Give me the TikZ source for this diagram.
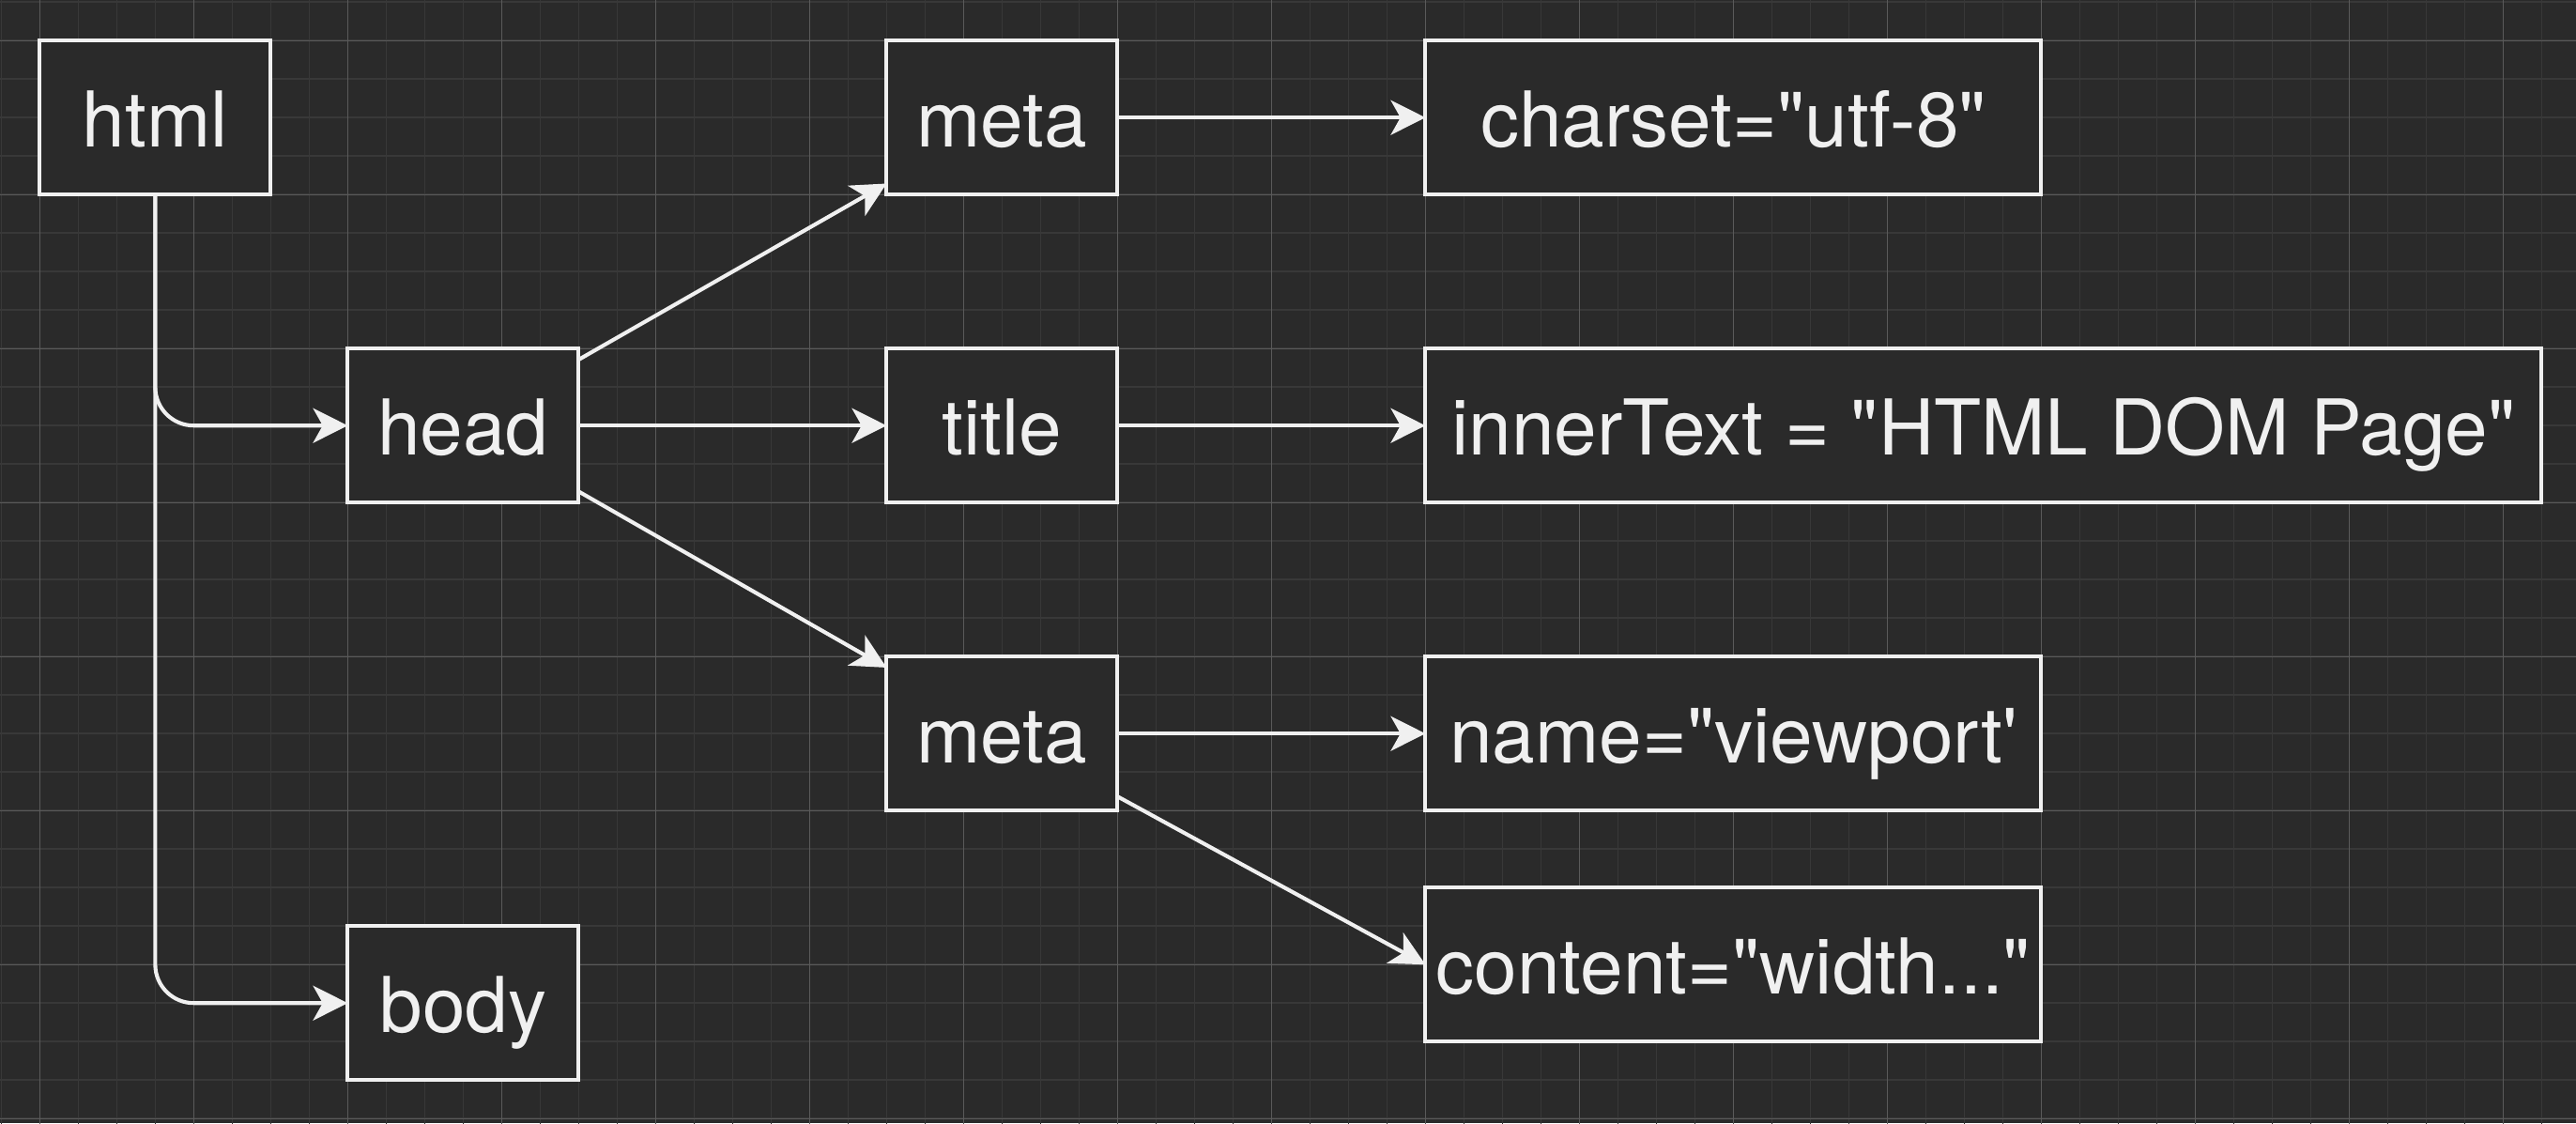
\documentclass[tikz,border=0pt]{standalone}
\usepackage{fontspec}
\setmainfont{TeX Gyre Heros}
\usetikzlibrary{arrows.meta}
\definecolor{bg}{HTML}{2A2A2A}
\definecolor{fg}{HTML}{F0F0F0}
\definecolor{gridminor}{HTML}{383838}
\definecolor{gridmajor}{HTML}{5A5A5A}
\newcommand{\dq}{\textquotedbl}
\begin{document}
\begin{tikzpicture}[x=1pt,y=1pt,
  box/.style={draw=fg, line width=1pt, fill=bg, text=fg, minimum height=40pt,
    inner sep=0pt, outer sep=0pt, text height=18pt, text depth=2.8pt,
    font=\fontsize{20}{24}\selectfont},
  tag/.style={box, minimum width=60pt},
  attr/.style={box, minimum width=160pt},
  conn/.style={draw=fg, line width=1pt, -{Stealth[length=9pt,width=9pt,inset=2.5pt]}},
  minorline/.style={draw=gridminor, line width=0.4pt},
  majorline/.style={draw=gridmajor, line width=0.3pt}]
\fill[bg] (-10.34,10.54) rectangle (658.93,-281.17);
\useasboundingbox (-10.34,10.54) rectangle (658.93,-281.17);
\begin{scope}
  \clip (-10.34,10.54) rectangle (658.93,-281.17);
  \draw[minorline] (-40,-320) grid[step=10pt] (680,40);
  \draw[majorline] (-40,-320) grid[step=40pt] (680,40);
\end{scope}
% nodes
\node[tag] (html) at (30,-20) {html};
\node[tag] (head) at (110,-100) {head};
\node[tag] (body) at (110,-250) {body};
\node[tag] (meta1) at (250,-20) {meta};
\node[tag] (title) at (250,-100) {title};
\node[tag] (meta2) at (250,-180) {meta};
\node[attr] (charset) at (440,-20) {charset=\dq utf-8\dq};
\node[box, minimum width=290pt] (inner) at (505,-100) {innerText = \dq HTML DOM Page\dq};
\node[attr] (name) at (440,-180) {name=\dq viewport\textquotesingle};
\node[attr] (content) at (440,-240) {content=\dq width...\dq};
% connectors
\draw[conn, rounded corners=10pt] (html.south) |- (head.west);
\draw[conn, rounded corners=10pt] (html.south) |- (body.west);
\draw[conn] (head) -- (meta1);
\draw[conn] (head) -- (title);
\draw[conn] (head) -- (meta2);
\draw[conn] (meta1) -- (charset);
\draw[conn] (title) -- (inner);
\draw[conn] (meta2) -- (name);
\draw[conn] (meta2) -- (content.west);
\end{tikzpicture}
\end{document}
